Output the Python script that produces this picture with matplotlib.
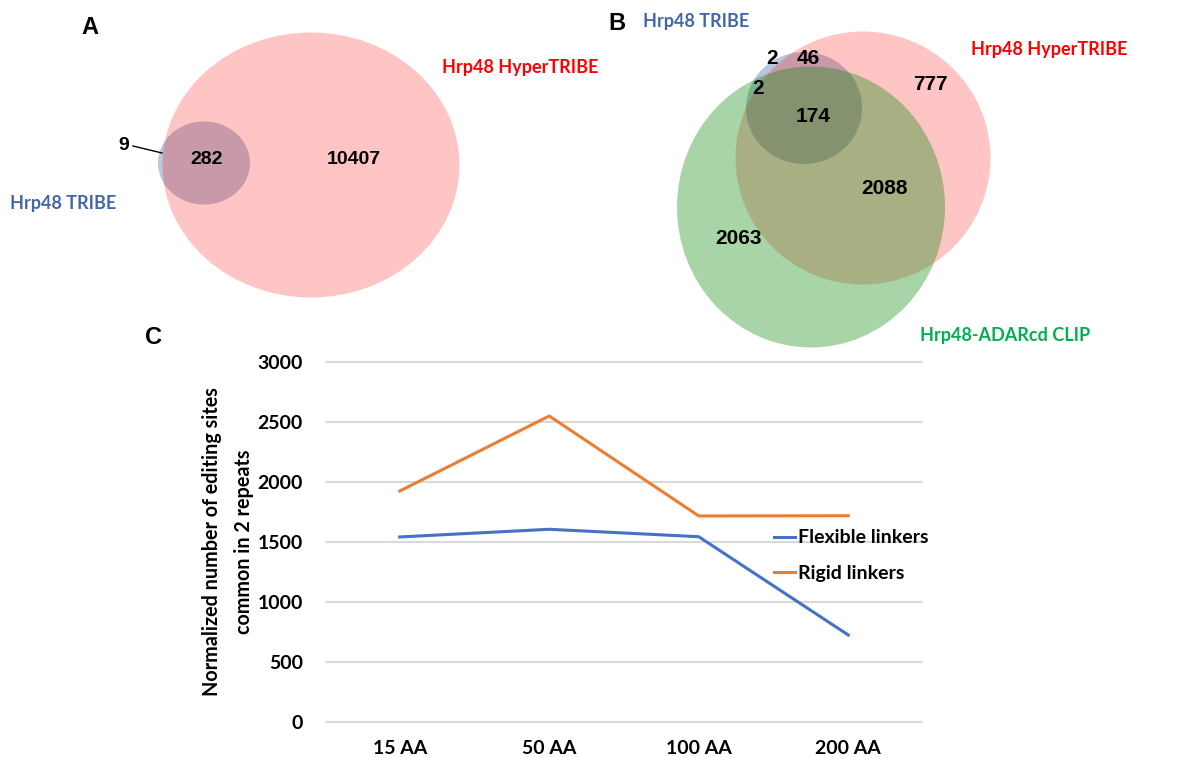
import matplotlib
matplotlib.use("Agg")
import matplotlib.pyplot as plt
from matplotlib.patches import Ellipse
import numpy as np

# Panel C data
categories = ["15 AA", "50 AA", "100 AA", "200 AA"]
flexible = [1542, 1606, 1544, 725]
rigid = [1925, 2550, 1717, 1719]
yticks = [0, 500, 1000, 1500, 2000, 2500, 3000]

# Venn counts
venn_a = {"tribe_only": 9, "both": 282, "hyper_only": 10407}
venn_b = {"tribe_only": 2, "tribe_hyper": 46, "tribe_clip": 2, "all": 174,
          "hyper_only": 777, "hyper_clip": 2088, "clip_only": 2063}

W, H = 1194, 757
fig = plt.figure(figsize=(W / 100, H / 100), dpi=100)

# overlay axes in pixel coordinates for the two Venn diagrams
ov = fig.add_axes([0, 0, 1, 1])
ov.set_xlim(0, W)
ov.set_ylim(H, 0)
ov.axis("off")

blue_c = "#B9C7DA"
pink_c = (1.0, 0.0, 0.0, 0.227)
green_c = (0.024, 0.53, 0.024, 0.35)

num_font = dict(family="Liberation Sans", fontweight="bold", fontsize=14,
                ha="center", va="center", color="black")
num_font_b = dict(num_font, fontsize=15)
lab_font = dict(family="Lato", fontweight="bold", fontsize=13,
                ha="center", va="center")

# ---- Panel A
ov.add_patch(Ellipse((204, 163), 92, 83, facecolor=blue_c, edgecolor="none"))
ov.add_patch(Ellipse((311, 165), 297, 265, facecolor=pink_c, edgecolor="none"))
ov.text(90, 28, "A", family="Liberation Sans", fontweight="bold", fontsize=17,
        ha="center", va="center")
ov.text(124, 146, str(venn_a["tribe_only"]), **num_font)
ov.plot([133, 162], [146, 153], color="black", lw=1)
ov.text(207, 160, str(venn_a["both"]), **num_font)
ov.text(354, 160, str(venn_a["hyper_only"]), **num_font)
ov.text(63, 204, "Hrp48 TRIBE", color="#4267A8", **lab_font)
ov.text(520, 67, "Hrp48 HyperTRIBE", color="#FF0000", **lab_font)

# ---- Panel B
ov.add_patch(Ellipse((804, 108), 116, 112, facecolor=blue_c, edgecolor="none"))
ov.add_patch(Ellipse((863, 158), 255, 253, facecolor=pink_c, edgecolor="none"))
ov.add_patch(Ellipse((811, 207), 268, 281, facecolor=green_c, edgecolor="none"))
ov.text(617, 23, "B", family="Liberation Sans", fontweight="bold", fontsize=17,
        ha="center", va="center")
ov.text(696, 22, "Hrp48 TRIBE", color="#4267A8", **lab_font)
ov.text(1049, 50, "Hrp48 HyperTRIBE", color="#FF0000", **lab_font)
ov.text(1005, 335, "Hrp48-ADARcd CLIP", color="#00B050", **lab_font)
ov.text(772, 59, str(venn_b["tribe_only"]), **num_font_b)
ov.text(808, 59, str(venn_b["tribe_hyper"]), **num_font_b)
ov.text(758, 89, str(venn_b["tribe_clip"]), **num_font_b)
ov.text(813, 116, str(venn_b["all"]), **num_font_b)
ov.text(930, 84, str(venn_b["hyper_only"]), **num_font_b)
ov.text(884, 189, str(venn_b["hyper_clip"]), **num_font_b)
ov.text(738, 238, str(venn_b["clip_only"]), **num_font_b)

# ---- Panel C
ov.text(154, 337, "C", family="Liberation Sans", fontweight="bold", fontsize=17,
        ha="center", va="center")
ov.text(228, 542, "Normalized number of editing sites\ncommon in 2 repeats",
        family="Lato", fontweight="bold", fontsize=14.2, rotation=90,
        ha="center", va="center", linespacing=1.75, multialignment="center")

px = 3000 / 360.0
y0, y1 = -6 * px, 3000 + 6 * px
ax = fig.add_axes([325 / W, (H - 728) / H, 598 / W, 372 / H])
ax.set_facecolor("none")
x = np.arange(len(categories))
ax.plot(x, flexible, color="#4472C4", lw=2.2, label="Flexible linkers")
ax.plot(x, rigid, color="#ED7D31", lw=2.2, label="Rigid linkers")
ax.set_xlim(-0.5, 3.5)
ax.set_ylim(y0, y1)
ax.set_yticks(yticks)
ax.set_xticks(x)
ax.set_xticklabels(categories)
ax.grid(axis="y", color="#D9D9D9", lw=1.5)
ax.set_axisbelow(True)
for s in ax.spines.values():
    s.set_visible(False)
ax.tick_params(length=0, labelsize=14)
ax.tick_params(axis="y", pad=16)
ax.tick_params(axis="x", pad=9)
for t in ax.get_xticklabels() + ax.get_yticklabels():
    t.set_family("Lato")
    t.set_fontweight("bold")

leg = ax.legend(loc="upper left", bbox_to_anchor=(0.737, 0.555), frameon=False,
                prop=dict(family="Lato", weight="bold", size=14),
                handlelength=1.1, handletextpad=0.15, labelspacing=0.95,
                borderaxespad=0)

fig.savefig("out.png", dpi=100)
